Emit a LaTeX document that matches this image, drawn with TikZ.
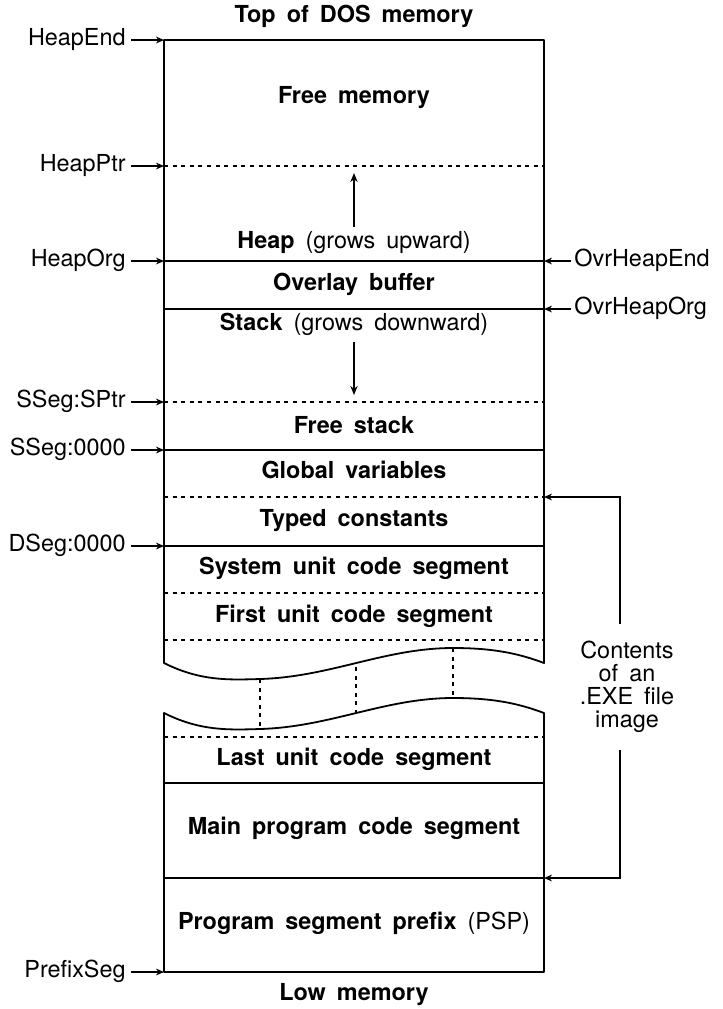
\documentclass[tikz,border=0pt]{standalone}
\usepackage{fontspec}
\setmainfont{TeX Gyre Heros}[WordSpace=1.7]
\usetikzlibrary{arrows.meta}
\newcommand\memsize{\fontsize{11.7}{11.5}\selectfont}

\begin{document}
\begin{tikzpicture}[x=0.5pt,y=-0.5pt,
    region/.style={font=\memsize\bfseries, inner sep=0pt, text height=8.4pt, text depth=2.5pt},
    plain/.style={font=\memsize, inner sep=0pt, text height=8.4pt, text depth=2.5pt},
    marker/.style={plain},
    ptr/.style={-{Stealth[length=4pt,width=3.4pt]}, line width=0.8pt},
    growarrow/.style={-{Stealth[length=4.5pt,width=3.6pt]}, line width=0.9pt},
    wall/.style={line width=0.9pt, line join=round},
    part/.style={line width=0.8pt},
    dpart/.style={line width=0.9pt, dash pattern=on 2pt off 2.3pt},
  ]
  \useasboundingbox (0,0) rectangle (723,1009);

  % memory block, cut by the break
  \draw[wall] (164,663) -- (164,40) -- (544,40) -- (544,663)
    .. controls (520,654) and (495,648) .. (453,648)
    .. controls (385,648) and (330,677) .. (260,679)
    .. controls (228,680) and (200,681) .. cycle;
  \draw[wall] (164,713) .. controls (200,731) and (228,730) .. (260,729)
    .. controls (330,727) and (385,698) .. (453,698)
    .. controls (495,698) and (520,704) .. (544,713)
    -- (544,972) -- (164,972) -- cycle;
  \draw[dpart] (260,679) -- (260,729);
  \draw[dpart] (356,667) -- (356,717);
  \draw[dpart] (453,648) -- (453,698);

  \foreach \y in {261,309,450,546,783,878}
    \draw[part] (164,\y) -- (544,\y);
  \foreach \y in {166,402,497,593,640,737}
    \draw[dpart] (164,\y) -- (544,\y);

  % regions
  \node[region] (top)   at (354,17)  {Top of DOS memory};
  \node[region] (free)  at (354,98)  {Free memory};
  \node[plain]  (heap)  at (354,243) {\textbf{Heap} (grows upward)};
  \node[region] (ovl)   at (354,285) {Overlay buffer};
  \node[plain]  (stack) at (354,325) {\textbf{Stack} (grows downward)};
  \node[region] (fstk)  at (354,428) {Free stack};
  \node[region] (glob)  at (354,473) {Global variables};
  \node[region] (tcon)  at (354,521) {Typed constants};
  \node[region] (sysu)  at (354,569) {System unit code segment};
  \node[region] (fstu)  at (354,617) {First unit code segment};
  \node[region] (lstu)  at (354,760) {Last unit code segment};
  \node[region] (mainc) at (354,829) {Main program code segment};
  \node[plain]  (psp)   at (354,924) {\textbf{Program segment prefix} (PSP)};
  \node[region] (low)   at (354,995) {Low memory};

  \coordinate (hptr) at (354,173);
  \coordinate (sptr) at (354,395);
  \draw[growarrow, shorten <=2.5pt] (heap.north) -- (hptr);
  \draw[growarrow, shorten <=3pt] (stack.south) -- (sptr);

  % pointer variables
  \foreach \y/\name/\txt in {40/hend/HeapEnd, 166/hpv/HeapPtr, 261/horg/HeapOrg,
      402/ssp/SSeg:SPtr, 450/sseg/SSeg:0000, 546/dseg/DSeg:0000, 972/pfx/PrefixSeg} {
    \node[marker, anchor=east] (\name) at (126,\y) {\txt};
    \coordinate (\name-to) at (164,\y);
    \draw[ptr, shorten <=2.5pt] (\name.east) -- (\name-to);
  }
  \node[marker, anchor=west] (ohend) at (574,261) {OvrHeapEnd};
  \node[marker, anchor=west] (ohorg) at (574,309) {OvrHeapOrg};
  \coordinate (ohend-to) at (544,261);
  \coordinate (ohorg-to) at (544,309);
  \draw[ptr, shorten <=1.5pt] (ohend.west) -- (ohend-to);
  \draw[ptr, shorten <=1.5pt] (ohorg.west) -- (ohorg-to);

  % file image bracket
  \node[font=\memsize, align=center, inner xsep=0pt, inner ysep=8.5pt] (exe) at (627,687)
    {Contents\\of an\\.EXE file\\image};
  \coordinate (gv) at (544,497);
  \coordinate (mp) at (544,878);
  \draw[ptr, line width=0.9pt] ([xshift=-3.5pt]exe.north) |- (gv);
  \draw[ptr, line width=0.9pt] ([xshift=-3.5pt]exe.south) |- (mp);
\end{tikzpicture}
\end{document}
